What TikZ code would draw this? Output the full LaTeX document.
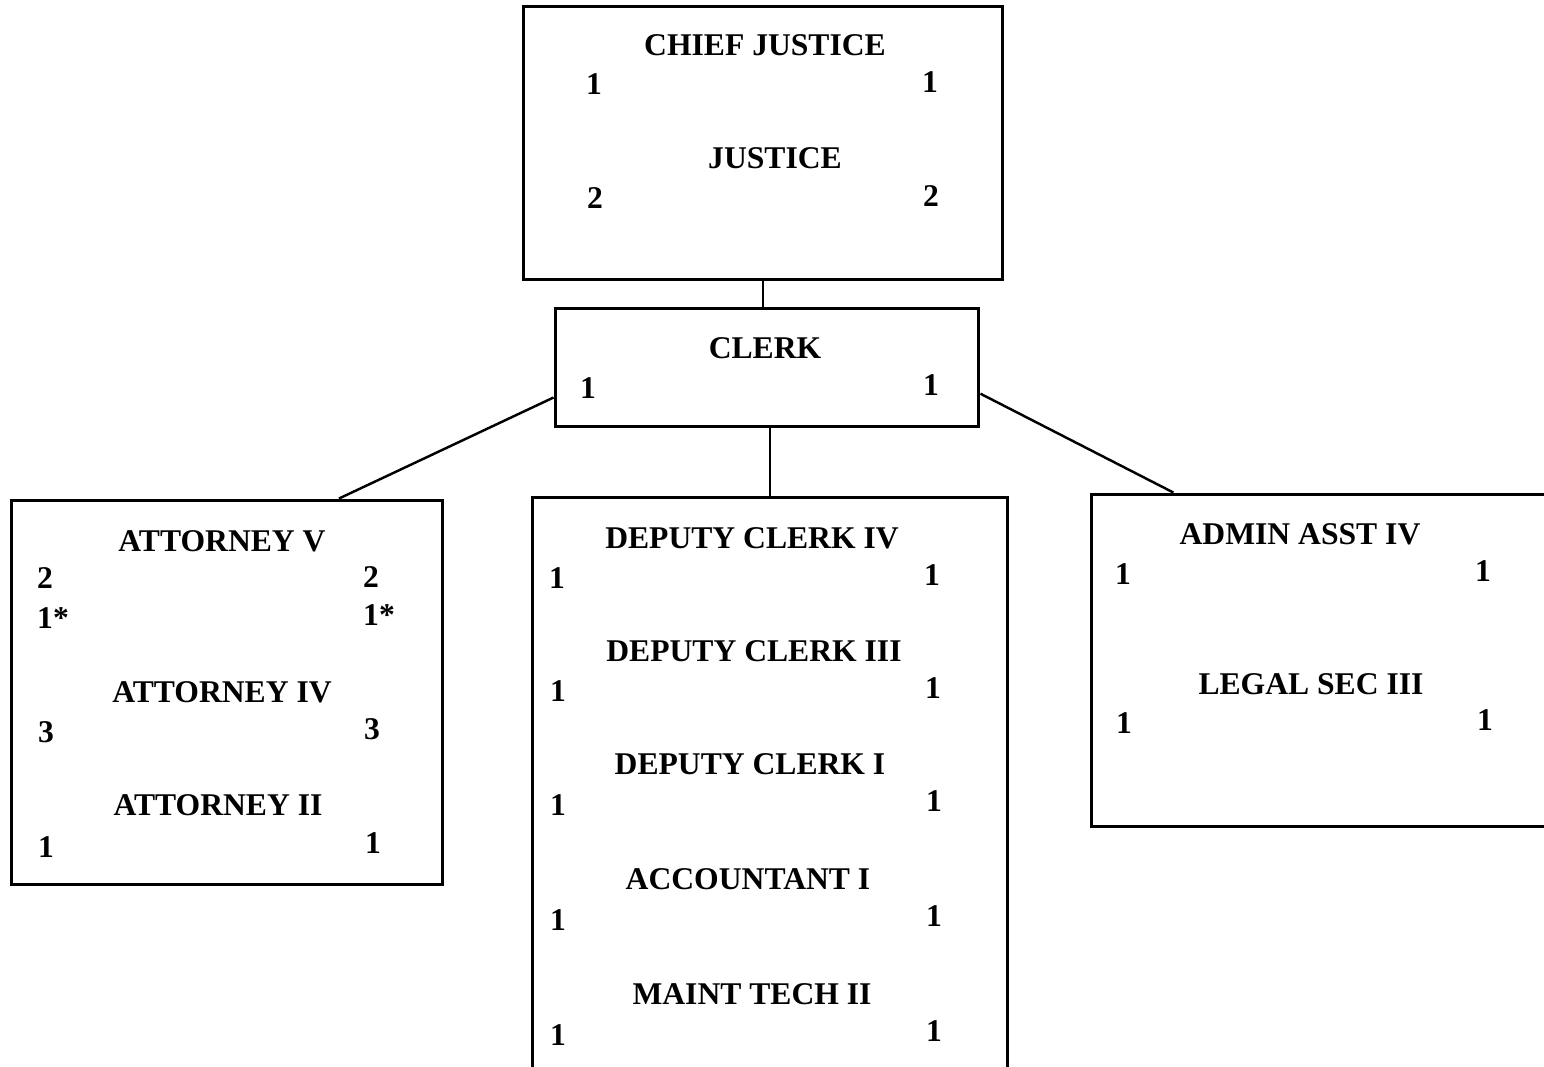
\documentclass[tikz,border=0pt]{standalone}
\usepackage{fontspec}
\setmainfont{Liberation Serif}

\begin{document}
\begin{tikzpicture}[x=0.02cm,y=-0.02cm,
    unitbox/.style={draw,line width=1.7pt,inner sep=0pt},
    post/.style={font=\fontsize{18}{20}\selectfont\bfseries,inner sep=0pt},
    count/.style={font=\fontsize{18}{20}\selectfont\bfseries,inner sep=0pt},
    link/.style={line width=1.4pt}]
    \useasboundingbox (0,0) rectangle (1544,1067);
    \begin{scope}
      \clip (0,0) rectangle (1544,1067);
      % boxes
      \node[unitbox,minimum width=9.6cm,minimum height=5.48cm] (court) at (763,143) {};
      \node[unitbox,minimum width=8.48cm,minimum height=2.38cm] (clerkbox) at (767,367.5) {};
      \node[unitbox,minimum width=8.64cm,minimum height=7.7cm] (legal) at (227,692.5) {};
      \node[unitbox,minimum width=9.52cm,minimum height=11.76cm] (office) at (770,791) {};
      \node[unitbox,minimum width=9.56cm,minimum height=6.66cm] (admin) at (1330,660.5) {};
    \end{scope}

    % court
    \node[post] (cjus) at (765,45) {CHIEF JUSTICE};
    \node[count] (cjusL) at (594,84) {1};
    \node[count] (cjusR) at (930,82) {1};
    \node[post] (jus) at (775,158) {JUSTICE};
    \node[count] (jusL) at (595,198) {2};
    \node[count] (jusR) at (931,196) {2};

    % clerk
    \node[post] (clk) at (765,348) {CLERK};
    \node[count] (clkL) at (588,388) {1};
    \node[count] (clkR) at (931,385) {1};

    % attorneys
    \node[post] (att5) at (222,541) {ATTORNEY V};
    \node[count] (att5L) at (45,578) {2};
    \node[count] (att5R) at (371,577) {2};
    \node[count] (att5sL) at (53,618) {1*};
    \node[count] (att5sR) at (379,615) {1*};
    \node[post] (att4) at (222,692) {ATTORNEY IV};
    \node[count] (att4L) at (46,732) {3};
    \node[count] (att4R) at (372,729) {3};
    \node[post] (att2) at (218,805) {ATTORNEY II};
    \node[count] (att2L) at (46,847) {1};
    \node[count] (att2R) at (373,843) {1};

    % clerk's office
    \node[post] (dc4) at (752,538) {DEPUTY CLERK IV};
    \node[count] (dc4L) at (557,578) {1};
    \node[count] (dc4R) at (932,575) {1};
    \node[post] (dc3) at (754,651) {DEPUTY CLERK III};
    \node[count] (dc3L) at (558,691) {1};
    \node[count] (dc3R) at (933,688) {1};
    \node[post] (dc1) at (750,764) {DEPUTY CLERK I};
    \node[count] (dc1L) at (558,805) {1};
    \node[count] (dc1R) at (934,801) {1};
    \node[post] (acc) at (748,879) {ACCOUNTANT I};
    \node[count] (accL) at (558,920) {1};
    \node[count] (accR) at (934,916) {1};
    \node[post] (mt) at (752,994) {MAINT TECH II};
    \node[count] (mtL) at (558,1035) {1};
    \node[count] (mtR) at (934,1031) {1};

    % support staff
    \node[post] (aa) at (1300,534) {ADMIN ASST IV};
    \node[count] (aaL) at (1123,574) {1};
    \node[count] (aaR) at (1483,571) {1};
    \node[post] (ls) at (1311,684) {LEGAL SEC III};
    \node[count] (lsL) at (1124,723) {1};
    \node[count] (lsR) at (1485,720) {1};

    % connectors
    \draw[link] (court.south) -- (court.south |- clerkbox.north);
    \draw[link] (office.north) -- (office.north |- clerkbox.south);
    \draw[link] (clerkbox.188) -- (legal.60);
    \draw[link] (clerkbox.-7.5) -- (admin.133.5);
  \end{tikzpicture}
\end{document}
